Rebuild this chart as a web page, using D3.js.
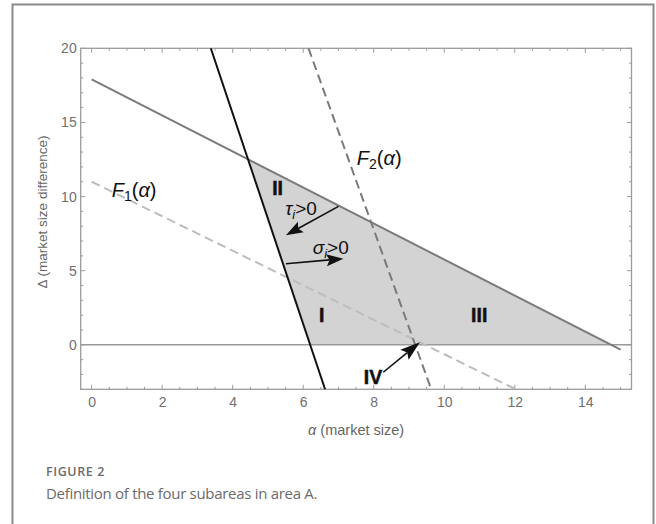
<!DOCTYPE html>
<html>
<head>
<meta charset="utf-8">
<script src="https://cdn.jsdelivr.net/npm/d3@7"></script>
<style>
  body { margin: 0; background: #fff; }
  svg text { font-family: "Liberation Sans", Arial, sans-serif; }
  .tick-label { font-size: 14px; fill: #707070; }
  .axis-label { font-size: 14.5px; fill: #666; }
  .math { font-size: 20px; fill: #111; }
  .region { font-size: 19.5px; font-weight: bold; fill: #111; stroke: #111; stroke-width: 0.5px; }
  .caption { font-family: "Open Sans", sans-serif; fill: #6b6b6b; }
</style>
</head>
<body>
<div id="chart"></div>
<script>
// axis ticks
const xTicks = [0, 2, 4, 6, 8, 10, 12, 14];
const yTicks = [0, 5, 10, 15, 20];
const xMinor = d3.range(0, 15.01, 0.5);
const yMinor = d3.range(-3, 20.01, 1);

// curves, as [alpha, delta] end points
const upperLine = [[0, 17.9], [15, -0.32]];
const blackLine = [[3.38, 20], [6.62, -3]];
const f2Line = [[6.15, 20], [9.63, -3]];
const f1Line = [[0, 11], [12.03, -3]];
const areaA = [[4.44, 12.55], [14.73, 0], [6.2, 0]];

// arrows [from, to]
const tauArrow = [[7.0, 9.34], [5.51, 7.39]];
const sigmaArrow = [[5.51, 5.47], [7.14, 5.81]];
const ivArrow = [[8.27, -1.85], [9.31, 0.18]];

// subarea labels
const regionNames = ['I', 'II', 'III', 'IV'];
const regionPos = [[6.45, 1.53], [5.12, 10.09], [10.76, 1.53], [7.72, -2.64]];

document.addEventListener('DOMContentLoaded', function() {
  drawChart();
});

function drawChart() {
  const W = 656, H = 524;
  const svg = d3.select('#chart').append('svg')
    .attr('width', W).attr('height', H);

  // outer figure box
  svg.append('rect')
    .attr('x', 12.5).attr('y', 4.5)
    .attr('width', 641).attr('height', 600)
    .style('fill', 'none').style('stroke', '#8a8a8a').style('stroke-width', 2);

  const left = 80.7, right = 631.5, top = 48.3, bottom = 389.3;
  const x = d3.scaleLinear().domain([-0.31, 15.31]).range([left, right]);
  const y = d3.scaleLinear().domain([-3, 20]).range([bottom, top]);

  const line = d3.line().x(d => x(d[0])).y(d => y(d[1]));

  // shaded area
  svg.append('path')
    .attr('d', line(areaA) + 'Z')
    .style('fill', '#d3d3d3');

  // zero line
  svg.append('line')
    .attr('x1', left).attr('x2', right)
    .attr('y1', y(0)).attr('y2', y(0))
    .style('stroke', '#9a9a9a').style('stroke-width', 1.5);

  // frame + ticks (inward, mirrored)
  const frame = svg.append('g');
  frame.append('rect')
    .attr('x', left).attr('y', top)
    .attr('width', right - left).attr('height', bottom - top)
    .style('fill', 'none').style('stroke', '#9c9c9c').style('stroke-width', 1.3);

  function tickLen(v, majors) { return majors.indexOf(v) >= 0 ? 4.5 : 2.5; }
  xMinor.forEach(function(v) {
    let len = tickLen(v, xTicks);
    frame.append('line').attr('x1', x(v)).attr('x2', x(v)).attr('y1', bottom).attr('y2', bottom - len);
    frame.append('line').attr('x1', x(v)).attr('x2', x(v)).attr('y1', top).attr('y2', top + len);
  });
  yMinor.forEach(function(v) {
    let len = tickLen(v, yTicks);
    frame.append('line').attr('y1', y(v)).attr('y2', y(v)).attr('x1', left).attr('x2', left + len);
    frame.append('line').attr('y1', y(v)).attr('y2', y(v)).attr('x1', right).attr('x2', right - len);
  });
  frame.selectAll('line').style('stroke', '#9c9c9c').style('stroke-width', 1);

  // tick labels through d3 axes
  const xAxis = svg.append('g')
    .attr('transform', 'translate(0,' + bottom + ')')
    .call(d3.axisBottom(x).tickValues(xTicks).tickSize(0).tickPadding(8));
  const yAxis = svg.append('g')
    .attr('transform', 'translate(' + left + ',0)')
    .call(d3.axisLeft(y).tickValues(yTicks).tickSize(0).tickPadding(4));
  [xAxis, yAxis].forEach(function(g) {
    g.select('.domain').remove();
    g.selectAll('text').attr('class', 'tick-label').attr('font-family', null).attr('font-size', null);
  });

  // curves
  svg.append('path').attr('d', line(f1Line))
    .style('fill', 'none').style('stroke', '#bdbdbd').style('stroke-width', 2)
    .style('stroke-dasharray', '9,5');
  svg.append('path').attr('d', line(f2Line))
    .style('fill', 'none').style('stroke', '#7a7a7a').style('stroke-width', 2)
    .style('stroke-dasharray', '9,5');
  svg.append('path').attr('d', line(upperLine))
    .style('fill', 'none').style('stroke', '#7b7b7b').style('stroke-width', 2);
  svg.append('path').attr('d', line(blackLine))
    .style('fill', 'none').style('stroke', '#111').style('stroke-width', 2);

  // arrows
  function arrow(pts, headLen, headW) {
    let x0 = x(pts[0][0]), y0 = y(pts[0][1]);
    let x1 = x(pts[1][0]), y1 = y(pts[1][1]);
    let a = Math.atan2(y1 - y0, x1 - x0);
    let ux = Math.cos(a), uy = Math.sin(a);
    let bx = x1 - ux * headLen, by = y1 - uy * headLen;
    let nx = x1 - ux * headLen * 0.82, ny = y1 - uy * headLen * 0.82;
    svg.append('line')
      .attr('x1', x0).attr('y1', y0).attr('x2', nx).attr('y2', ny)
      .style('stroke', '#111').style('stroke-width', 1.6);
    svg.append('polygon')
      .attr('points', [
        [x1, y1],
        [bx - uy * headW, by + ux * headW],
        [nx, ny],
        [bx + uy * headW, by - ux * headW]
      ].map(p => p.join(',')).join(' '))
      .style('fill', '#111');
  }
  arrow(tauArrow, 17, 6);
  arrow(sigmaArrow, 17, 6);
  arrow(ivArrow, 20, 6.5);

  // region labels
  svg.selectAll('.region')
    .data(regionNames)
    .enter().append('text')
    .attr('class', 'region')
    .attr('x', (d, i) => x(regionPos[i][0]))
    .attr('y', (d, i) => y(regionPos[i][1]))
    .text(d => d);

  // math labels
  function fLabel(px, py, sub) {
    let t = svg.append('text').attr('class', 'math').attr('x', x(px)).attr('y', y(py));
    t.append('tspan').style('font-style', 'italic').text('F');
    t.append('tspan').attr('dy', 4).style('font-size', '14px').text(sub);
    t.append('tspan').attr('dy', -4).text('(');
    t.append('tspan').style('font-style', 'italic').text('α');
    t.append('tspan').text(')');
  }
  fLabel(0.57, 9.97, '1');
  fLabel(7.52, 12.11, '2');

  function condLabel(px, py, sym) {
    let t = svg.append('text').attr('class', 'math').style('font-size', '19px')
      .attr('x', x(px)).attr('y', y(py));
    t.append('tspan').style('font-style', 'italic').text(sym);
    t.append('tspan').attr('dy', 4).style('font-size', '13px').style('font-style', 'italic').text('i');
    t.append('tspan').attr('dy', -4).text('>0');
  }
  condLabel(5.49, 8.78, 'τ');
  condLabel(6.27, 6.15, 'σ');

  // axis titles
  let xl = svg.append('text').attr('class', 'axis-label')
    .attr('x', (left + right) / 2).attr('y', 435).attr('text-anchor', 'middle');
  xl.append('tspan').style('font-style', 'italic').text('α');
  xl.append('tspan').text(' (market size)');
  svg.append('text').attr('class', 'axis-label')
    .style('font-size', '13.5px')
    .attr('transform', 'translate(47,212) rotate(-90)')
    .attr('text-anchor', 'middle')
    .text('Δ (market size difference)');

  // caption
  svg.append('text').attr('class', 'caption')
    .attr('x', 46).attr('y', 476)
    .style('font-size', '12.5px').style('font-weight', 600).style('letter-spacing', '0.6px')
    .text('FIGURE 2');
  svg.append('text').attr('class', 'caption')
    .attr('x', 46).attr('y', 498.7)
    .style('font-size', '15px').style('letter-spacing', '-0.3px')
    .text('Definition of the four subareas in area A.');
}
</script>
</body>
</html>
